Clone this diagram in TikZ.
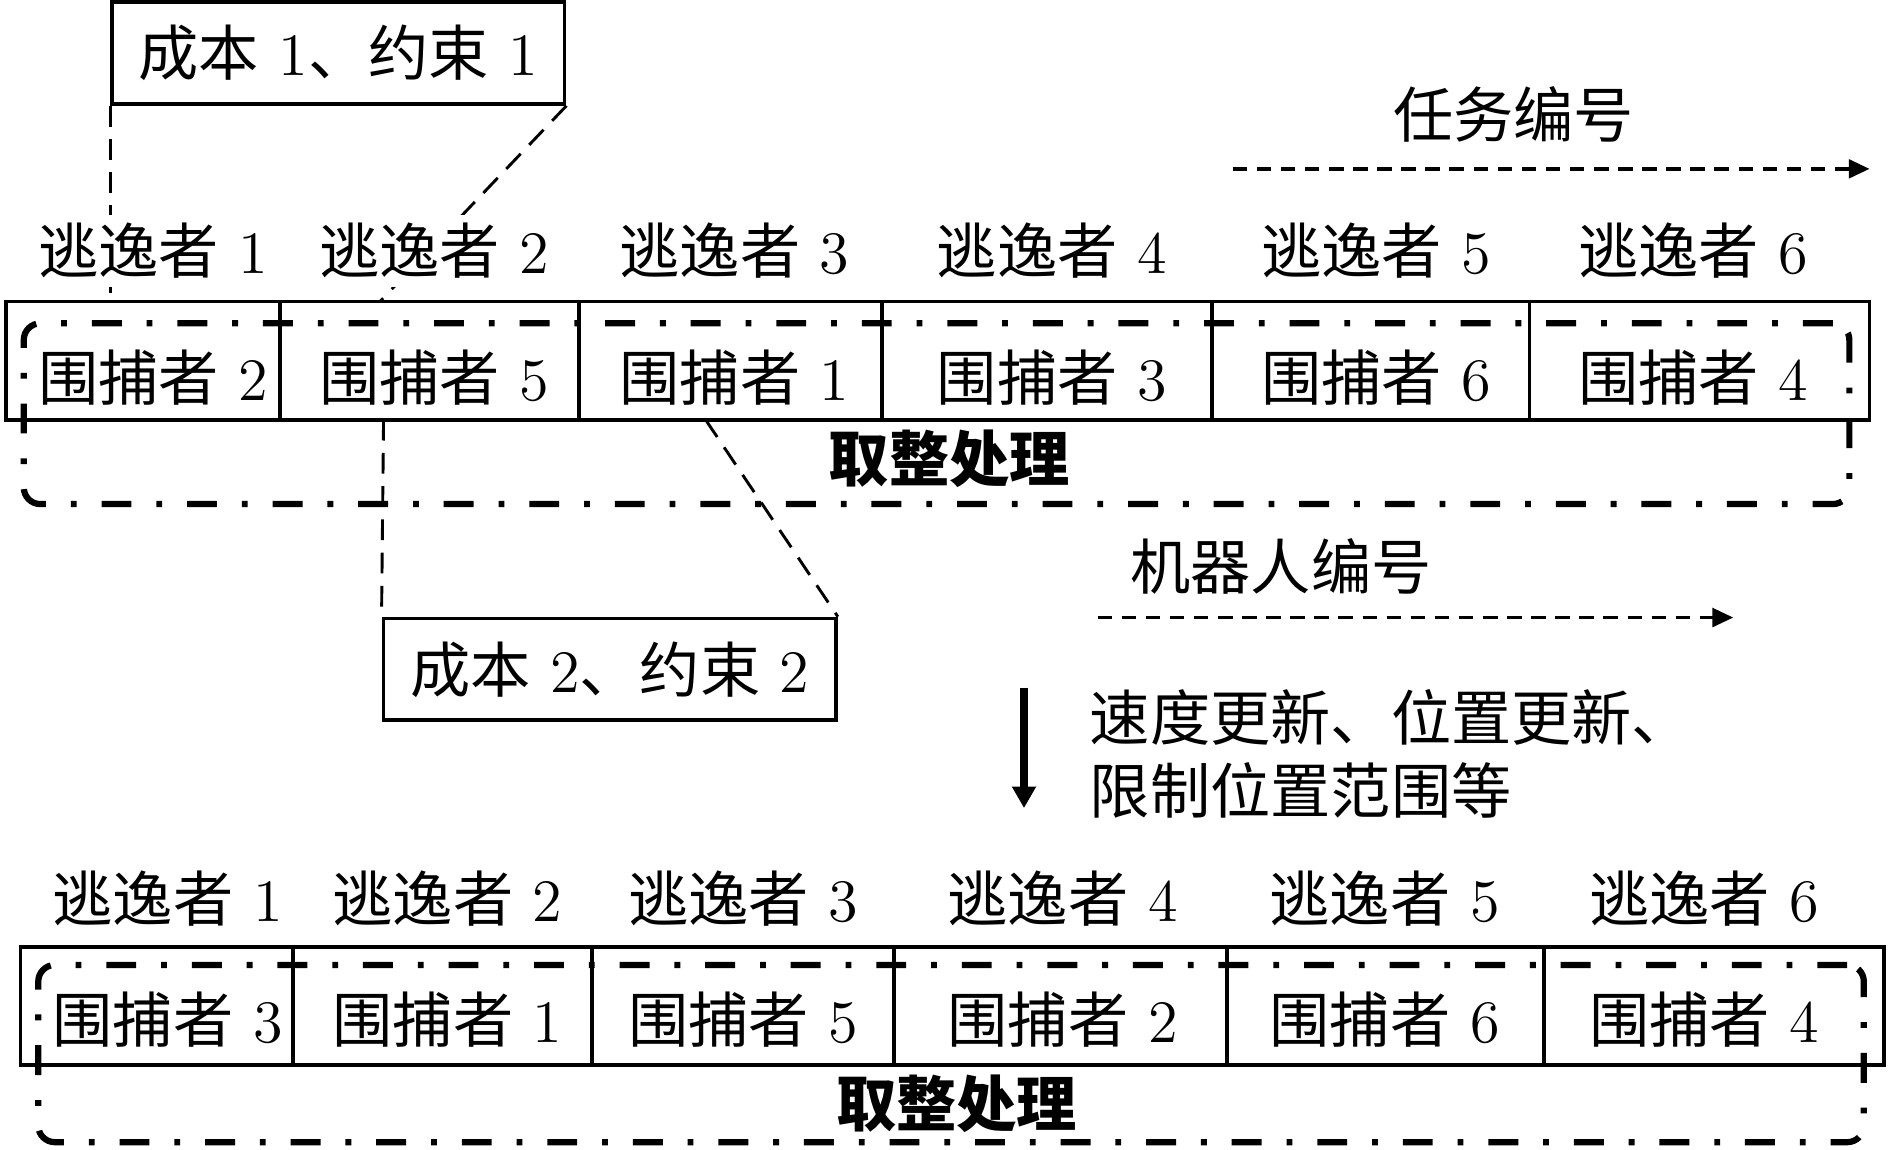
\documentclass[tikz,border=0pt]{standalone}
\usepackage{fontspec}
\newfontfamily\cjk{Noto Sans CJK SC}
\usetikzlibrary{positioning,arrows.meta}

\begin{document}
\begin{tikzpicture}[
    x=0.01021cm, y=-0.01021cm,
    every node/.style={font=\fontsize{14.5}{17.4}\selectfont, inner sep=0pt},
    rowbox/.style={draw, line width=0.9pt, minimum width=15.77cm, minimum height=1.0cm},
    roundbox/.style={draw, line width=1.5pt, rounded corners=4pt, minimum width=15.45cm,
        dash pattern=on 7.2pt off 6pt on 1.4pt off 6pt},
    costbox/.style={draw, line width=0.9pt, minimum width=3.83cm, minimum height=0.86cm},
    escname/.style={fill=white, inner ysep=2pt},
    linkline/.style={line width=0.7pt, dash pattern=on 5pt off 3pt},
    order/.style={line width=0.8pt, dash pattern=on 3.5pt off 2.3pt,
        -{Triangle[length=5pt,width=4.5pt]}}
]
\useasboundingbox (0,0) rectangle (1567,953);

% cost boxes
\node[costbox] (cost1) at (280.5,44) {{\cjk 成本} 1{\cjk 、约束} 1};
\node[costbox] (cost2) at (505.5,555) {{\cjk 成本} 2{\cjk 、约束} 2};

% first row
\node[rowbox] (row1) at (777.5,299) {};
\foreach \x in {232,480,731,1005,1268}
    \draw[line width=0.9pt] (\x,250) -- (\x,348);

\coordinate (c1a) at (315,250);
\coordinate (c2a) at (318,348);
\coordinate (c2b) at (585,348);
\draw[linkline] (cost1.south west) -- (cost1.south west |- row1.north);
\draw[linkline] (cost1.south east) -- (c1a);
\draw[linkline] (c2a) -- (cost2.north west);
\draw[linkline] (c2b) -- (cost2.north east);

\foreach \x/\e/\h [count=\i] in {127/1/2, 360/2/5, 609/3/1, 872/4/3, 1141/5/6, 1404/6/4} {
    \node[escname] (ea\i) at (\x,208) {{\cjk 逃逸者} \e};
    \node (ha\i) at (\x,313) {{\cjk 围捕者} \h};
}
\node[roundbox, minimum height=1.53cm] (round1) at (776.5,343) {};
\node (fix1) at (787,380) {\cjk\bfseries 取整处理};

% numbering arrows
\node (tasknum) at (1255,95) {\cjk 任务编号};
\coordinate (taskS) at (1022,140);
\coordinate (taskE) at (1550,140);
\draw[order] (taskS) -- (taskE);

\node (robotnum) at (1062,470) {\cjk 机器人编号};
\coordinate (robotS) at (910,512);
\coordinate (robotE) at (1437,512);
\draw[order] (robotS) -- (robotE);

% update step
\coordinate (stepA) at (849,570);
\coordinate (stepB) at (849,670);
\draw[line width=1.7pt, -{Triangle[length=5.2pt,width=5.5pt]}] (stepA) -- (stepB);
\node[anchor=west, align=left, font=\fontsize{14.5}{17.4}\selectfont\cjk] (update) at (903,625)
    {速度更新、位置更新、\\限制位置范围等};

% second row
\node[rowbox] (row2) at (789.5,834) {};
\foreach \x in {243,491,741,1017,1280}
    \draw[line width=0.9pt] (\x,785) -- (\x,883);

\foreach \x/\e/\h [count=\i] in {139/1/3, 371/2/1, 616/3/5, 881/4/2, 1148/5/6, 1413/6/4} {
    \node[escname] (eb\i) at (\x,745) {{\cjk 逃逸者} \e};
    \node (hb\i) at (\x,845) {{\cjk 围捕者} \h};
}
\node[roundbox, minimum height=1.50cm] (round2) at (788.5,873.5) {};
\node (fix2) at (793,915) {\cjk\bfseries 取整处理};
\end{tikzpicture}
\end{document}
